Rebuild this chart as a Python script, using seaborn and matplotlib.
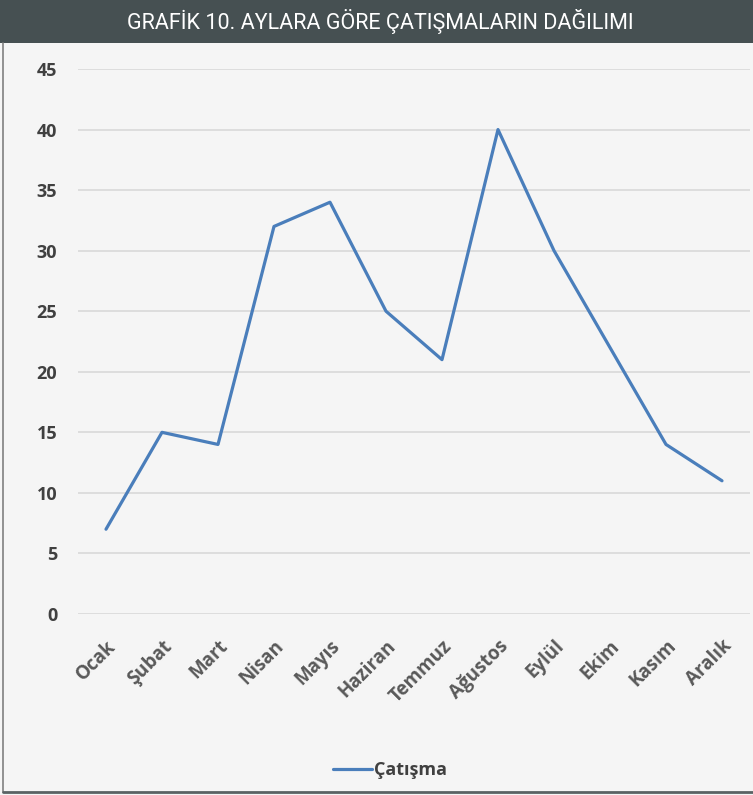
import matplotlib
matplotlib.use("Agg")
import matplotlib.pyplot as plt
import seaborn as sns
import pandas as pd
from matplotlib.patches import Rectangle
from matplotlib.lines import Line2D

months = ["Ocak", "Şubat", "Mart", "Nisan", "Mayıs", "Haziran", "Temmuz",
          "Ağustos", "Eylül", "Ekim", "Kasım", "Aralık"]
values = [7, 15, 14, 32, 34, 25, 21, 40, 30, 22, 14, 11]
series_name = "Çatışma"
title = "GRAFİK 10. AYLARA GÖRE ÇATIŞMALARIN DAĞILIMI"
yticks = [0, 5, 10, 15, 20, 25, 30, 35, 40, 45]

sns.set_theme(style="white")
plt.rcParams['font.family'] = ['Open Sans', 'DejaVu Sans']

df = pd.DataFrame({"Ay": months, "Değer": values, "Seri": series_name})

W, H = 753, 795
fig = plt.figure(figsize=(W / 100, H / 100), dpi=100, facecolor="#f5f5f5")
ax = fig.add_axes([78 / W, 1 - 614 / H, (750 - 78) / W, (614 - 69) / H])
ax.set_facecolor("#f5f5f5")

sns.lineplot(data=df, x="Ay", y="Değer", sort=False, color="#4a7ebb",
             linewidth=2.3, ax=ax, legend=False)

ax.set_xlim(-0.5, len(months) - 0.5)
ax.set_ylim(0, 45)
ax.set_yticks(yticks)
ax.yaxis.grid(True, color="#d9d9d9", linewidth=1.2)
ax.xaxis.grid(False)
for s in ax.spines.values():
    s.set_visible(False)
ax.set_xlabel("")
ax.set_ylabel("")
ax.tick_params(axis="y", length=0, pad=15, labelsize=13, labelcolor="#404040")
ax.tick_params(axis="x", length=0, pad=16, labelsize=13.5, labelcolor="#595959")
for lab in ax.get_yticklabels():
    lab.set_fontweight("bold")
ax.set_xticks(range(len(months)))
ax.set_xticklabels(months, rotation=45, ha="right", rotation_mode="anchor",
                   fontweight="bold")

# Title bar
fig.patches.append(Rectangle((0, 1 - 43 / H), 1, 43 / H, transform=fig.transFigure,
                             facecolor="#465052", edgecolor="none", zorder=0))
fig.text(380 / W, 1 - 21 / H, title, color="white", fontsize=15.5,
         ha="center", va="center", family=["Roboto", "DejaVu Sans"])

# Outer border (left & bottom)
fig.lines.append(Line2D([3 / W, 3 / W], [3 / H, 1 - 43 / H], transform=fig.transFigure,
                        color="#808080", linewidth=1.2))
fig.lines.append(Line2D([3 / W, 1], [3 / H, 3 / H], transform=fig.transFigure,
                        color="#5a6264", linewidth=2))

# Legend
handle = Line2D([], [], color="#4a7ebb", linewidth=2.3)
fig.legend([handle], [series_name], loc="center", bbox_to_anchor=(390 / W, 1 - 770 / H),
           frameon=False, handlelength=2.2, handletextpad=0.1,
           prop={"weight": "bold", "size": 13}, labelcolor="#404040")

fig.savefig("out.png", dpi=100, facecolor=fig.get_facecolor())
